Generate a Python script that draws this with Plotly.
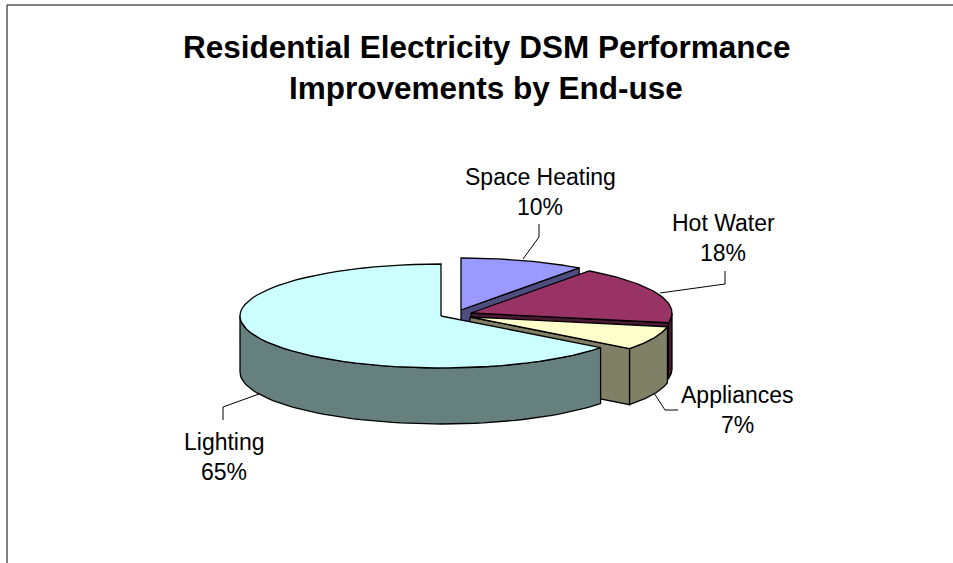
import math
import plotly.graph_objects as go

categories = ["Space Heating", "Hot Water", "Appliances", "Lighting"]
values = [10, 18, 7.4, 64.6]
top_colors = ["#9999FF", "#993366", "#FFFFCC", "#CCFFFF"]
side_colors = ["#4D4D80", "#4D1A33", "#808066", "#668080"]
apex_x = [461, 471, 470, 441]
apex_y = [310, 313, 317, 316]
title_lines = ["Residential Electricity DSM Performance", "Improvements by End-use"]

RX, RY, DEPTH = 201, 52, 56
W, H = 953, 563
LW = 1.3


def arc(cx, cy, a, b, n=60, dy=0):
    pts = []
    for i in range(n + 1):
        t = math.radians(a + (b - a) * i / n)
        pts.append((cx + RX * math.sin(t), cy - RY * math.cos(t) + dy))
    return pts


fig = go.Figure()


def poly(pts, color):
    xs = [p[0] for p in pts] + [pts[0][0]]
    ys = [p[1] for p in pts] + [pts[0][1]]
    fig.add_trace(go.Scatter(x=xs, y=ys, mode="lines", fill="toself", fillcolor=color,
                             line=dict(color="#000000", width=LW), hoverinfo="skip", showlegend=False))


def line(xs, ys):
    fig.add_trace(go.Scatter(x=xs, y=ys, mode="lines", line=dict(color="#000000", width=1),
                             hoverinfo="skip", showlegend=False))


start = 0.0
for cat, val, top, side, cx, cy in zip(categories, values, top_colors, side_colors, apex_x, apex_y):
    end = start + val * 3.6
    # cut face on the clockwise edge, when it faces the viewer
    if 0 < end < 180:
        o = arc(cx, cy, end, end, 1)[0]
        poly([(cx, cy), o, (o[0], o[1] + DEPTH), (cx, cy + DEPTH)], side)
    # outer wall: the front half of the rim only
    a, b = max(start, 90), min(end, 270)
    if a < b:
        poly(arc(cx, cy, a, b) + arc(cx, cy, a, b, dy=DEPTH)[::-1], side)
    poly([(cx, cy)] + arc(cx, cy, start, end), top)
    start = end

# leader lines
line([523, 539, 539], [259, 237, 224])
line([660, 725, 725], [293, 284, 271])
line([654, 665, 678], [393, 410, 410])
line([259, 223, 223], [394, 407, 420])
# chart frame (runs off the right and bottom of the page)
line([7, 7, W + 5], [H + 5, 5, 5])

anns = []


def text(x, y, s, size, bold=False):
    anns.append(dict(x=x, y=y, xref="x", yref="y", text=f"<b>{s}</b>" if bold else s, showarrow=False,
                     xanchor="center", yanchor="middle",
                     font=dict(family="Liberation Sans, Arial, sans-serif", size=size, color="#000000")))


text(486, 47, title_lines[0], 31.5, True)
text(486, 87.5, title_lines[1], 31.5, True)
label_pos = [(540, 177), (723, 223), (737, 395), (224, 442)]
for cat, val, (x, y) in zip(categories, values, label_pos):
    text(x, y, cat, 23)
    text(x, y + 29.5, f"{round(val)}%", 23)

fig.update_layout(
    width=W, height=H, margin=dict(l=0, r=0, t=0, b=0), autosize=False,
    paper_bgcolor="#FFFFFF", plot_bgcolor="#FFFFFF", annotations=anns,
    xaxis=dict(range=[0, W], visible=False, fixedrange=True),
    yaxis=dict(range=[H, 0], visible=False, fixedrange=True),
)
fig.write_html(
    "out.html",
    config={"displayModeBar": False},
    post_script="document.body.style.margin='0';document.body.style.overflow='hidden';",
)
